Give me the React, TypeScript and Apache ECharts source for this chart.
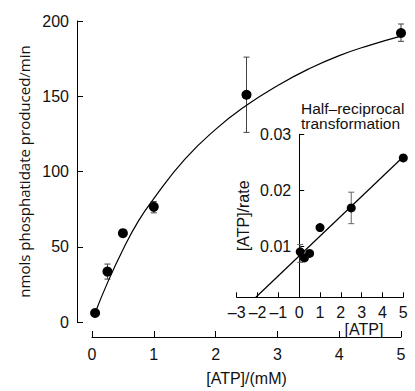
import React, { useEffect, useRef } from "react";
import * as echarts from "echarts";

// Main plot: rate vs [ATP]
const mainX = [0.05, 0.25, 0.5, 1, 2.5, 5];
const mainY = [6, 33.5, 59, 76.5, 151, 192];
const mainErrX = [0.25, 1, 2.5, 5];
const mainErrLow = [28.5, 72.5, 126, 186.5];
const mainErrHigh = [38.5, 80, 176, 198];
// Fitted curve
const curveX = [0.05, 0.25, 0.5, 0.75, 1, 1.5, 2, 2.5, 3, 3.5, 4, 4.5, 5];
const curveY = [6, 26, 48, 67, 82, 108, 128, 144, 157, 168, 177, 184, 190];

// Inset: half-reciprocal transformation
const insetX = [0.05, 0.25, 0.5, 1, 2.5, 5];
const insetY = [0.0091, 0.008, 0.0088, 0.0134, 0.0169, 0.0258];
const insetErrX = [0.05, 2.5];
const insetErrLow = [0.0072, 0.0141];
const insetErrHigh = [0.0104, 0.0197];
const fitX = [-2.08, 5];
const fitY = [0.001, 0.026];

const mainXTicks = [0, 5, 1];
const mainYTicks = [0, 200, 50];
const insetXTicks = [-3, 5, 1];

const FONT = "Liberation Sans";
const TXT = "#111";

function errorRender(color: string) {
  return (params: any, api: any) => {
    const x = api.value(0);
    const lo = api.value(1);
    const hi = api.value(2);
    const p1 = api.coord([x, lo]);
    const p2 = api.coord([x, hi]);
    const w = 3;
    const st = { stroke: color, lineWidth: 1 };
    return {
      type: "group",
      children: [
        { type: "line", shape: { x1: p1[0], y1: p1[1], x2: p2[0], y2: p2[1] }, style: st },
        { type: "line", shape: { x1: p1[0] - w, y1: p1[1], x2: p1[0] + w, y2: p1[1] }, style: st },
        { type: "line", shape: { x1: p2[0] - w, y1: p2[1], x2: p2[0] + w, y2: p2[1] }, style: st },
      ],
    };
  };
}

export default function App() {
  const ref = useRef<HTMLDivElement>(null);
  useEffect(() => {
    if (!ref.current) return;
    const chart = echarts.init(ref.current, null, { renderer: "svg" });
    const axisLine = { lineStyle: { color: "#000", width: 1 } };
    const label = { color: TXT, fontSize: 16, fontFamily: FONT };
    const option: any = {
      animation: false,
      title: {
        text: "Half–reciprocal\ntransformation",
        left: 301,
        top: 100.5,
        padding: 0,
        textStyle: { fontSize: 15.5, fontWeight: "normal", lineHeight: 15.5, color: TXT, fontFamily: FONT },
      },
      grid: [
        { left: 92, right: 14, top: 21, bottom: 64 },
        { left: 236.7, right: 11.7, top: 134.3, bottom: 93.7 },
      ],
      xAxis: [
        {
          type: "value",
          gridIndex: 0,
          min: mainXTicks[0],
          max: mainXTicks[1],
          interval: mainXTicks[2],
          offset: 15,
          axisLine: { show: true, onZero: false, ...axisLine },
          axisTick: { show: true, inside: true, length: 6, lineStyle: { color: "#000" } },
          axisLabel: { ...label, margin: 9 },
          splitLine: { show: false },
          name: "[ATP]/(mM)",
          nameLocation: "middle",
          nameGap: 33,
          nameTextStyle: { ...label },
        },
        {
          type: "value",
          gridIndex: 1,
          min: insetXTicks[0],
          max: insetXTicks[1],
          interval: insetXTicks[2],
          axisLine: { show: true, onZero: false, ...axisLine },
          axisTick: { show: true, inside: true, length: 5, lineStyle: { color: "#000" } },
          axisLabel: {
            ...label,
            margin: 7,
            formatter: (v: number) => (v < 0 ? "–" + Math.abs(v) : String(v)),
          },
          splitLine: { show: false },
          name: "[ATP]",
          nameLocation: "middle",
          nameGap: 23,
          nameTextStyle: { ...label, padding: [0, 0, 0, 88] },
        },
      ],
      yAxis: [
        {
          type: "value",
          gridIndex: 0,
          min: mainYTicks[0],
          max: mainYTicks[1],
          interval: mainYTicks[2],
          offset: 15,
          axisLine: { show: true, onZero: false, ...axisLine },
          axisTick: { show: true, inside: true, length: 6, lineStyle: { color: "#000" } },
          axisLabel: { ...label, margin: 8 },
          splitLine: { show: false },
          name: "nmols phosphatidate produced/min",
          nameLocation: "middle",
          nameGap: 43,
          nameTextStyle: { color: TXT, fontSize: 15, fontFamily: "Open Sans" },
        },
        {
          type: "value",
          gridIndex: 1,
          min: 0.001,
          max: 0.03,
          splitNumber: 3,
          offset: -62.5,
          axisLine: { show: true, onZero: false, ...axisLine },
          axisTick: { show: true, inside: true, length: 5, lineStyle: { color: "#000" } },
          axisLabel: {
            ...label,
            margin: 8,
            formatter: (v: number) => (v < 0.005 ? "" : v.toFixed(2)),
          },
          splitLine: { show: false },
          name: "[ATP]/rate",
          nameLocation: "middle",
          nameGap: 48,
          nameTextStyle: { ...label },
        },
      ],
      series: [
        {
          type: "line",
          xAxisIndex: 0,
          yAxisIndex: 0,
          data: curveX.map((x, i) => [x, curveY[i]]),
          smooth: true,
          showSymbol: false,
          lineStyle: { color: "#000", width: 1.2 },
          z: 2,
        },
        {
          type: "custom",
          xAxisIndex: 0,
          yAxisIndex: 0,
          data: mainErrX.map((x, i) => [x, mainErrLow[i], mainErrHigh[i]]),
          encode: { x: 0, y: [1, 2] },
          renderItem: errorRender("#444"),
          z: 1,
        },
        {
          type: "scatter",
          xAxisIndex: 0,
          yAxisIndex: 0,
          data: mainX.map((x, i) => [x, mainY[i]]),
          symbolSize: 10,
          itemStyle: { color: "#000", opacity: 1 },
          z: 3,
        },
        {
          type: "line",
          xAxisIndex: 1,
          yAxisIndex: 1,
          data: fitX.map((x, i) => [x, fitY[i]]),
          showSymbol: false,
          lineStyle: { color: "#000", width: 1.2 },
          z: 2,
        },
        {
          type: "custom",
          xAxisIndex: 1,
          yAxisIndex: 1,
          data: insetErrX.map((x, i) => [x, insetErrLow[i], insetErrHigh[i]]),
          encode: { x: 0, y: [1, 2] },
          renderItem: errorRender("#666"),
          z: 1,
        },
        {
          type: "scatter",
          xAxisIndex: 1,
          yAxisIndex: 1,
          data: insetX.map((x, i) => [x, insetY[i]]),
          symbolSize: 9,
          itemStyle: { color: "#000", opacity: 1 },
          z: 3,
        },
      ],
    };
    chart.setOption(option);
    return () => chart.dispose();
  }, []);
  return (
    <div
      ref={ref}
      style={{ position: "fixed", left: 0, top: 0, width: 415, height: 391, background: "#fff" }}
    />
  );
}
